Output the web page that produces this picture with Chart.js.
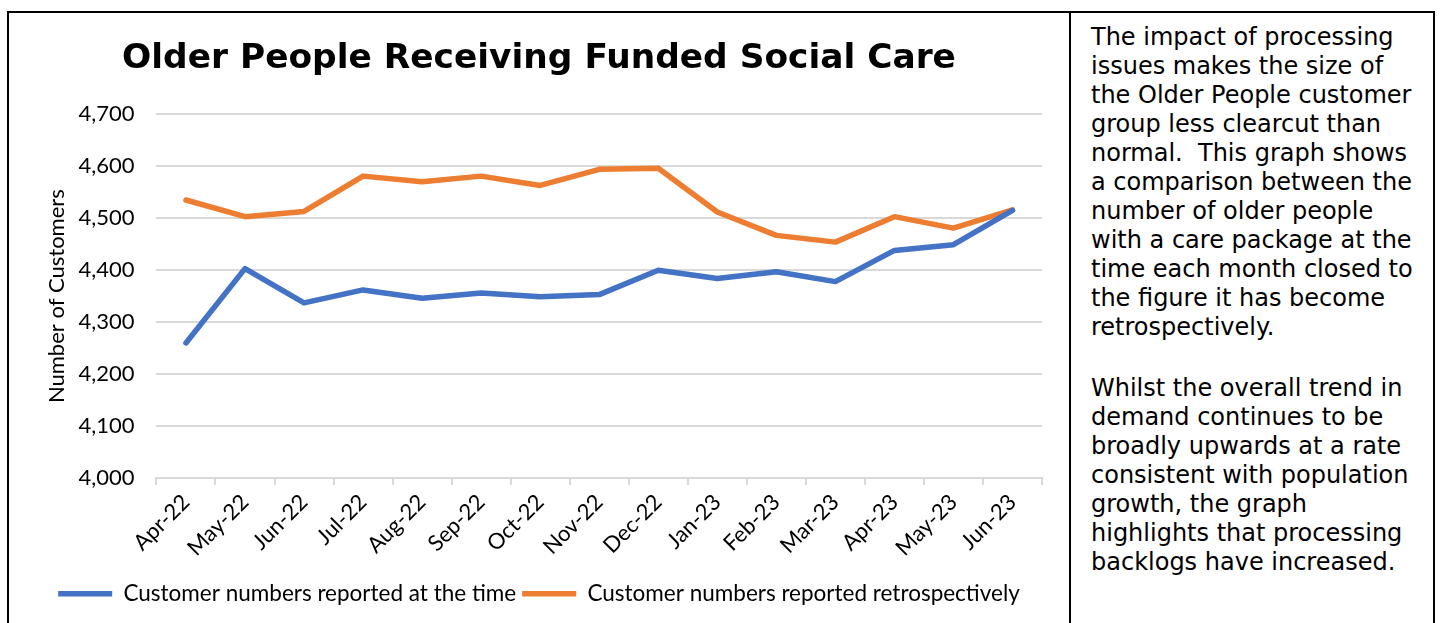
<!DOCTYPE html>
<html>
<head>
<meta charset="utf-8">
<script src="https://cdn.jsdelivr.net/npm/chart.js@4.4.1/dist/chart.umd.min.js"></script>
<style>
  html, body { margin: 0; padding: 0; background: #fff; }
  body { width: 1442px; height: 623px; position: relative; overflow: hidden; }
  #frame {
    position: absolute; left: 7px; top: 11px; width: 1428px; height: 640px;
    border: 2px solid #000; box-sizing: border-box;
  }
  #divider { position: absolute; left: 1069px; top: 11px; width: 2px; height: 640px; background: #000; }
  #chartBox { position: absolute; left: 10px; top: 14px; width: 1058px; height: 609px; }
  #note {
    position: absolute; left: 1091px; top: 23px;
    font-family: "DejaVu Sans", Verdana, sans-serif; font-size: 24px; line-height: 29px;
    color: #000; white-space: nowrap;
  }
  #note p { margin: 0 0 32px 0; }
</style>
</head>
<body>
<div id="frame"></div>
<div id="divider"></div>
<div id="chartBox"><canvas id="chart"></canvas></div>
<div id="note">
  <p>The impact of processing<br>issues makes the size of<br>the Older People customer<br>group less clearcut than<br>normal.&nbsp; This graph shows<br>a comparison between the<br>number of older people<br>with a care package at the<br>time each month closed to<br>the figure it has become<br>retrospectively.</p>
  <p>Whilst the overall trend in<br>demand continues to be<br>broadly upwards at a rate<br>consistent with population<br>growth, the graph<br>highlights that processing<br>backlogs have increased.</p>
</div>
<script>
// Months on the x axis
const months = ['Apr-22', 'May-22', 'Jun-22', 'Jul-22', 'Aug-22', 'Sep-22', 'Oct-22', 'Nov-22',
  'Dec-22', 'Jan-23', 'Feb-23', 'Mar-23', 'Apr-23', 'May-23', 'Jun-23'];

// Customer numbers as reported when each month closed
const reportedAtTime = [4260, 4403, 4337, 4362, 4346, 4356, 4349, 4353,
  4400, 4384, 4397, 4378, 4438, 4449, 4515];

// Same months as they look now
const reportedRetro = [4535, 4503, 4513, 4581, 4570, 4581, 4563, 4594,
  4596, 4512, 4467, 4454, 4503, 4481, 4516];

const yTicks = [4000, 4100, 4200, 4300, 4400, 4500, 4600, 4700];

const BLUE = '#4472C4';
const ORANGE = '#ED7D31';
const GRID = '#d9d9d9';
const labelFont = { family: 'Lato, "Open Sans", sans-serif', size: 22 };

new Chart(document.getElementById('chart'), {
  type: 'line',
  data: {
    labels: months,
    datasets: [
      {
        label: 'Customer numbers reported at the time',
        data: reportedAtTime,
        borderColor: BLUE,
        backgroundColor: BLUE,
        borderWidth: 5.5,
        borderCapStyle: 'round',
        borderJoinStyle: 'round',
        pointRadius: 0,
        tension: 0
      },
      {
        label: 'Customer numbers reported retrospectively',
        data: reportedRetro,
        borderColor: ORANGE,
        backgroundColor: ORANGE,
        borderWidth: 5.5,
        borderCapStyle: 'round',
        borderJoinStyle: 'round',
        pointRadius: 0,
        tension: 0
      }
    ]
  },
  options: {
    responsive: true,
    maintainAspectRatio: false,
    animation: false,
    layout: { padding: { left: 26, right: 26, top: 4, bottom: 8 } },
    plugins: {
      title: {
        display: true,
        text: 'Older People Receiving Funded Social Care',
        color: '#000',
        font: { family: '"DejaVu Sans", Verdana, sans-serif', size: 34.4, weight: 'bold' },
        padding: { top: 20, bottom: 35 }
      },
      legend: {
        position: 'bottom',
        // empty title only adds a little space above the legend row
        title: { display: true, text: '', font: { size: 1 }, padding: { top: 0, bottom: 10 } },
        labels: {
          color: '#000',
          font: { family: labelFont.family, size: 22.5 },
          usePointStyle: true,
          pointStyle: 'line',
          pointStyleWidth: 54,
          boxHeight: 5,
          padding: 6
        }
      },
      tooltip: { enabled: false }
    },
    scales: {
      x: {
        offset: true,
        grid: { offset: true, drawOnChartArea: false, drawTicks: true, tickLength: 7, color: GRID, lineWidth: 2 },
        border: { display: true, color: GRID, width: 2 },
        ticks: { color: '#000', font: labelFont, maxRotation: 45, minRotation: 45, padding: 4 }
      },
      y: {
        min: 4000,
        max: 4700,
        afterBuildTicks: axis => { axis.ticks = yTicks.map(v => ({ value: v })); },
        grid: { color: GRID, lineWidth: 2, drawTicks: false },
        border: { display: false },
        ticks: {
          color: '#000',
          font: labelFont,
          padding: 22,
          callback: v => v.toLocaleString('en-GB')
        },
        title: {
          display: true,
          text: 'Number of Customers',
          color: '#000',
          font: labelFont,
          padding: { top: 8, bottom: -14 }
        }
      }
    }
  }
});
</script>
</body>
</html>
